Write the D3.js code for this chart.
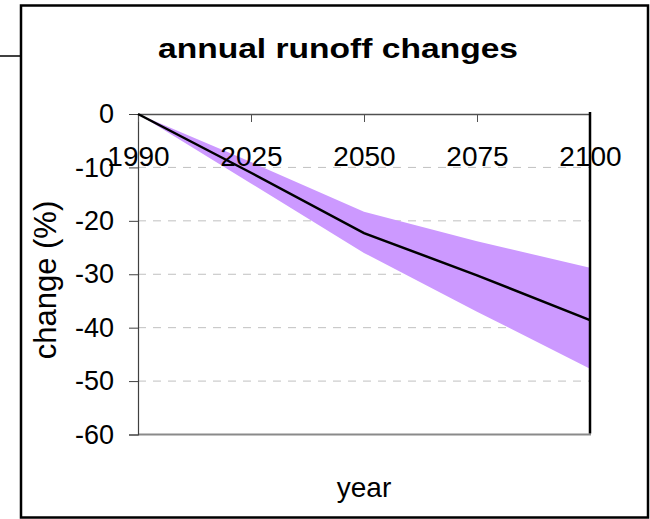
<!DOCTYPE html>
<html><head><meta charset="utf-8">
<script src="https://cdn.jsdelivr.net/npm/d3@7"></script>
<style>body{margin:0;background:#fff}svg{display:block;font-family:Arial,"Liberation Sans",sans-serif}</style>
</head><body><svg id="c" width="650" height="519"></svg>
<script>
const years = ["1990","2025","2050","2075","2100"];
const meanChange = [0, -11, -22.3, -30.2, -38.6];
const upperChange = [0, -9, -18.3, -23.8, -28.8];
const lowerChange = [0, -13, -26, -37, -47.7];
const yTicks = [0, -10, -20, -30, -40, -50, -60];
const title = "annual runoff changes";
const xTitle = "year";
const yTitle = "change (%)";

const FONT = "Arial, 'Liberation Sans', sans-serif";
const svg = d3.select("#c");
const x = d3.scalePoint().domain(years).range([138, 590]);
const y = d3.scaleLinear().domain([0, -60]).range([114, 434.5]);

// outer frame and stub
svg.append("line").attr("x1",0).attr("x2",20).attr("y1",56).attr("y2",56).attr("stroke","#000").attr("stroke-width",1.5);
svg.append("rect").attr("x",21).attr("y",5.5).attr("width",627).attr("height",512).attr("fill","#fff").attr("stroke","#000").attr("stroke-width",2.5);

// gridlines
svg.append("g").selectAll("line").data(yTicks.filter(d=>d<0 && d>-60)).join("line")
  .attr("x1",138).attr("x2",590).attr("y1",d=>y(d)).attr("y2",d=>y(d))
  .attr("stroke","#c0c0c0").attr("stroke-width",1).attr("stroke-dasharray","8,7");

// band
const band = years.map((yr,i)=>({yr, lo:lowerChange[i], hi:upperChange[i]}));
svg.append("path").datum(band)
  .attr("d", d3.area().x(d=>x(d.yr)).y0(d=>y(d.lo)).y1(d=>y(d.hi)))
  .attr("fill","#cc99ff");

// bottom axis line (grey)
svg.append("line").attr("x1",138).attr("x2",591).attr("y1",y(-60)).attr("y2",y(-60)).attr("stroke","#8a8a8a").attr("stroke-width",2);

// left axis
const ya = svg.append("g").attr("transform","translate(138,0)")
  .call(d3.axisLeft(y).tickValues(yTicks).tickSize(9).tickPadding(15).tickFormat(d=>String(d)));
ya.attr("font-size",27).attr("font-family",FONT);
ya.select(".domain").attr("stroke","#404040").attr("stroke-width",1.2);
ya.selectAll(".tick line").attr("stroke","#404040");
ya.selectAll("text").attr("fill","#000");

// top (x) axis at zero with inward ticks
const xa = svg.append("g").attr("transform",`translate(0,${y(0)})`)
  .call(d3.axisBottom(x).tickSize(8).tickSizeOuter(0).tickPadding(24));
xa.attr("font-size",28).attr("font-family",FONT);
xa.select(".domain").attr("stroke","#505050").attr("stroke-width",1.5);
xa.selectAll(".tick line").attr("stroke","#505050");
xa.selectAll("text").attr("fill","#000");

// mean line
svg.append("path").datum(meanChange)
  .attr("d", d3.line().x((d,i)=>x(years[i])).y(d=>y(d)))
  .attr("fill","none").attr("stroke","#000").attr("stroke-width",2.5);

// vertical line at last year
svg.append("line").attr("x1",x(years[years.length-1])).attr("x2",x(years[years.length-1]))
  .attr("y1",y(0)-2).attr("y2",y(-60)-1).attr("stroke","#000").attr("stroke-width",2.5);

// titles
svg.append("text").attr("x",338).attr("y",57.5).attr("text-anchor","middle")
  .attr("font-size",28.5).attr("font-weight","bold")
  .attr("textLength",360).attr("lengthAdjust","spacingAndGlyphs").text(title);
svg.append("text").attr("x",364).attr("y",497).attr("text-anchor","middle")
  .attr("font-size",28).text(xTitle);
svg.append("text").attr("transform","translate(56,280) rotate(-90)").attr("text-anchor","middle")
  .attr("font-size",31).text(yTitle);
</script></body></html>
